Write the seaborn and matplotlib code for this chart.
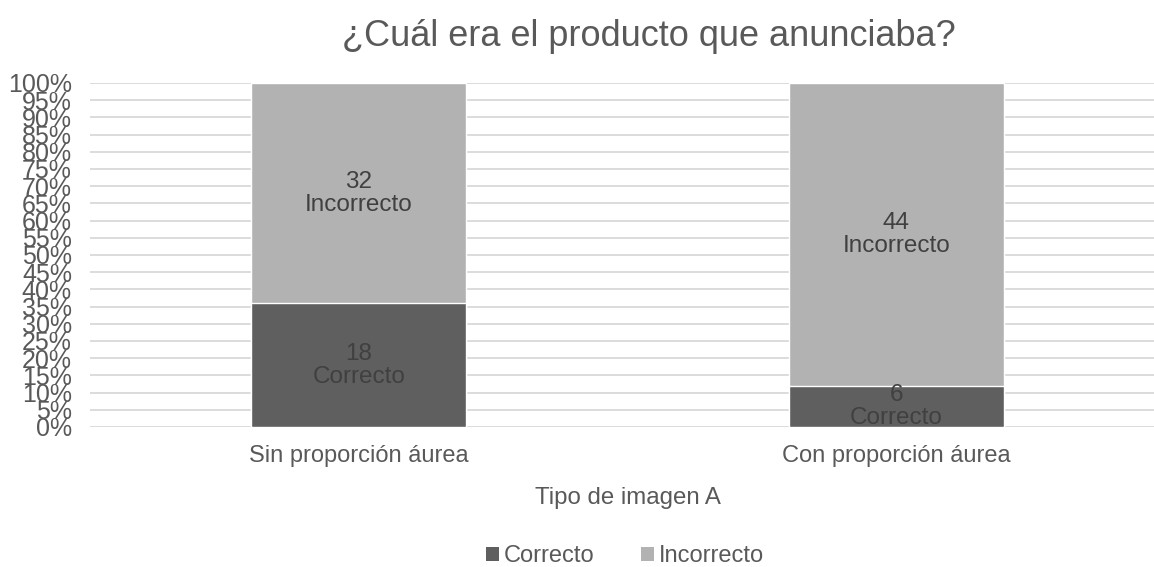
import matplotlib
matplotlib.use("Agg")
import matplotlib.pyplot as plt
from matplotlib.patches import Patch
from matplotlib.ticker import MultipleLocator, PercentFormatter
import pandas as pd
import seaborn as sns

categories = ["Sin proporción áurea", "Con proporción áurea"]
correcto = [18, 6]
incorrecto = [32, 44]
series_names = ["Correcto", "Incorrecto"]
title = "¿Cuál era el producto que anunciaba?"
x_label = "Tipo de imagen A"

dark = "#5f5f5f"
light = "#b2b2b2"
text_gray = "#595959"
label_gray = "#404040"

totals = [c + i for c, i in zip(correcto, incorrecto)]
df = pd.DataFrame({
    "categoria": categories,
    "correcto_pct": [c / t * 100 for c, t in zip(correcto, totals)],
    "total_pct": [100.0 for _ in totals],
})

sns.set_theme(style="white")
plt.rcParams["font.family"] = ["Liberation Sans", "DejaVu Sans"]

W, H = 1154, 567
fig = plt.figure(figsize=(W / 100, H / 100), dpi=100)
ax = fig.add_axes([90 / W, 140 / H, (1165 - 90) / W, 344 / H])

# stacked 100% bars: full-height Incorrecto, Correcto drawn over the bottom
sns.barplot(data=df, x="categoria", y="total_pct", color=light, width=0.4,
            saturation=1, ax=ax, zorder=2)
sns.barplot(data=df, x="categoria", y="correcto_pct", color=dark, width=0.4,
            saturation=1, ax=ax, zorder=3)

ax.set_xlim(-0.5, 1.5)
ax.set_ylim(0, 100)
ax.yaxis.set_major_locator(MultipleLocator(5))
ax.yaxis.set_major_formatter(PercentFormatter(decimals=0))
ax.grid(axis="y", color="#d9d9d9", linewidth=1.3, zorder=0)
ax.set_axisbelow(True)
for s in ax.spines.values():
    s.set_visible(False)
ax.tick_params(axis="y", length=0, labelsize=18, labelcolor=text_gray, pad=13)
ax.tick_params(axis="x", length=0, labelsize=17, labelcolor=text_gray, pad=13)
ax.set_xlabel("")
ax.set_ylabel("")

# segment labels: value and series name, centred in each segment
for i in range(len(categories)):
    c_pct = df["correcto_pct"][i]
    ax.text(i, c_pct / 2, f"{correcto[i]}\n{series_names[0]}", ha="center",
            va="center", fontsize=17.5, color=label_gray, linespacing=1.05,
            zorder=5)
    ax.text(i, c_pct + (100 - c_pct) / 2, f"{incorrecto[i]}\n{series_names[1]}",
            ha="center", va="center", fontsize=17.5, color=label_gray,
            linespacing=1.05, zorder=5)

fig.text(649 / W, 1 - 37 / H, title, ha="center", va="center",
         fontsize=26, color=text_gray)
fig.text(628 / W, 1 - 498 / H, x_label, ha="center", va="center",
         fontsize=17.3, color=text_gray)

handles = [Patch(facecolor=dark, edgecolor="none"),
           Patch(facecolor=light, edgecolor="none")]
fig.legend(handles, series_names, loc="center", ncol=2,
           bbox_to_anchor=(625 / W, 1 - 556 / H), frameon=False,
           fontsize=17, labelcolor=text_gray, handlelength=0.55,
           handleheight=0.55, handletextpad=0.2, columnspacing=2.0,
           borderpad=0, borderaxespad=0)

fig.savefig("out.png", dpi=100)
